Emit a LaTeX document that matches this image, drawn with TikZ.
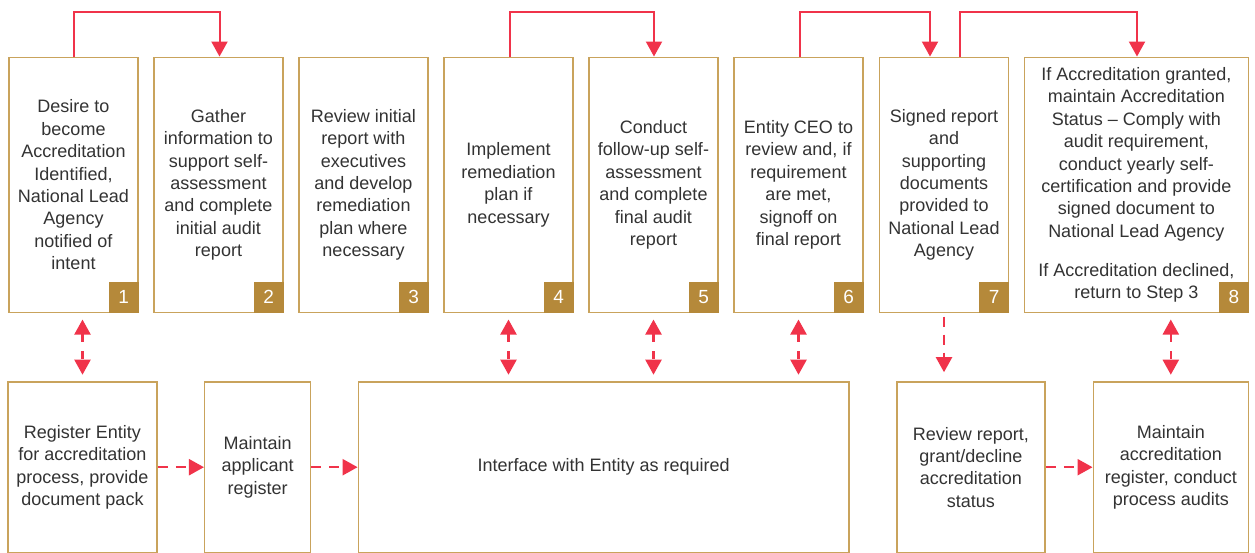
\documentclass[tikz,border=0pt]{standalone}
\usepackage{fontspec}
\setmainfont{Liberation Sans}
\usetikzlibrary{arrows.meta}
\definecolor{redc}{HTML}{F0334A}
\definecolor{tanc}{HTML}{C9A35C}
\definecolor{goldc}{HTML}{B5893A}
\definecolor{txtc}{HTML}{333333}
\tikzset{
  box/.style={draw=tanc, line width=1.5pt, fill=white, align=center, text=txtc,
    font=\fontsize{18}{22.4}\selectfont, inner sep=2pt},
  numbox/.style={fill=goldc, text=white, minimum width=30pt, minimum height=31pt,
    inner sep=0pt, font=\fontsize{19}{22}\selectfont, anchor=south east},
  flow/.style={draw=redc, line width=2pt, -{Triangle[width=16pt,length=15pt]}},
  dflow/.style={draw=redc, line width=2.2pt, dash pattern=on 10pt off 8pt,
    -{Triangle[width=16pt,length=15pt]}},
  dflowb/.style={draw=redc, line width=2.2pt, dash pattern=on 8pt off 9pt,
    {Triangle[width=16pt,length=15pt]}-{Triangle[width=16pt,length=15pt]}},
}
\begin{document}
\begin{tikzpicture}[x=1pt,y=-1pt]
\useasboundingbox (0,0) rectangle (1255,553);
% top row boxes
\node[box, minimum width=129pt, minimum height=255pt] (b1) at (73.5,184.8)
  {Desire to\\become\\Accreditation\\Identified,\\National Lead\\Agency\\notified of\\intent};
\node[box, minimum width=129pt, minimum height=255pt] (b2) at (218.5,184.8)
  {Gather\\information to\\support self-\\assessment\\and complete\\initial audit\\report};
\node[box, minimum width=129pt, minimum height=255pt] (b3) at (363.5,184.8)
  {Review initial\\report with\\executives\\and develop\\remediation\\plan where\\necessary};
\node[box, minimum width=129pt, minimum height=255pt] (b4) at (508.5,184.8)
  {Implement\\remediation\\plan if\\necessary};
\node[box, minimum width=129pt, minimum height=255pt] (b5) at (653.5,184.8)
  {Conduct\\follow-up self-\\assessment\\and complete\\final audit\\report};
\node[box, minimum width=129pt, minimum height=255pt] (b6) at (798.5,184.8)
  {Entity CEO to\\review and, if\\requirement\\are met,\\signoff on\\final report};
\node[box, minimum width=129pt, minimum height=255pt] (b7) at (944,184.8)
  {Signed report\\and\\supporting\\documents\\provided to\\National Lead\\Agency};
\node[box, minimum width=224pt, minimum height=255pt] (b8) at (1136.3,184.8)
  {If Accreditation granted,\\maintain Accreditation\\Status – Comply with\\audit requirement,\\conduct yearly self-\\certification and provide\\signed document to\\National Lead Agency\\[16.5pt]If Accreditation declined,\\return to Step 3};
% numbers
\node[numbox] (n1) at (b1.south east) {1};
\node[numbox] (n2) at (b2.south east) {2};
\node[numbox] (n3) at (b3.south east) {3};
\node[numbox] (n4) at (b4.south east) {4};
\node[numbox] (n5) at (b5.south east) {5};
\node[numbox] (n6) at (b6.south east) {6};
\node[numbox] (n7) at (b7.south east) {7};
\node[numbox] (n8) at (b8.south east) {8};
% bottom row
\node[box, minimum width=149pt, minimum height=170.5pt] (r1) at (82.5,467.2)
  {Register Entity\\for accreditation\\process, provide\\document pack};
\node[box, minimum width=106pt, minimum height=170.5pt] (r2) at (257.7,467.2)
  {Maintain\\applicant\\register};
\node[box, minimum width=490.7pt, minimum height=170.5pt] (r3) at (603.7,467.2)
  {Interface with Entity as required};
\node[box, minimum width=148.3pt, minimum height=170.5pt] (r4) at (970.9,467.2)
  {Review report,\\grant/decline\\accreditation\\status};
\node[box, minimum width=155pt, minimum height=170.5pt] (r5) at (1170.8,467.2)
  {Maintain\\accreditation\\register, conduct\\process audits};
% top connectors
\coordinate (t1) at (73.5,12.3);
\coordinate (t2) at (219.5,12.3);
\draw[flow] (b1.north) -- (t1) -- (t2) -- (t2 |- b2.north);
\coordinate (t4) at (509.5,12.3);
\coordinate (t5) at (654,12.3);
\draw[flow] (t4 |- b4.north) -- (t4) -- (t5) -- (t5 |- b5.north);
\coordinate (t6) at (800,12.3);
\coordinate (t7) at (930,12.3);
\draw[flow] (t6 |- b6.north) -- (t6) -- (t7) -- (t7 |- b7.north);
\coordinate (t7b) at (960,12.3);
\coordinate (t8) at (1137,12.3);
\draw[flow] (t7b |- b7.north) -- (t7b) -- (t8) -- (t8 |- b8.north);
% vertical dashed connectors
\draw[dflowb, shorten <=6.5pt, shorten >=6.5pt] (r1.north |- b1.south) -- (r1.north);
\draw[dflowb, shorten <=6.5pt, shorten >=6.5pt] (b4.south) -- (b4.south |- r3.north);
\draw[dflowb, shorten <=6.5pt, shorten >=6.5pt] (b5.south) -- (b5.south |- r3.north);
\draw[dflowb, shorten <=6.5pt, shorten >=6.5pt] (b6.south) -- (b6.south |- r3.north);
\draw[dflowb, shorten <=6.5pt, shorten >=6.5pt] (r5.north |- b8.south) -- (r5.north);
\draw[dflow, shorten <=3.5pt, shorten >=9pt] (b7.south) -- (b7.south |- r4.north);
% horizontal dashed connectors
\draw[dflow] (r1.east) -- (r2.west);
\draw[dflow] (r2.east) -- (r3.west);
\draw[dflow] (r4.east) -- (r5.west);
\end{tikzpicture}
\end{document}
